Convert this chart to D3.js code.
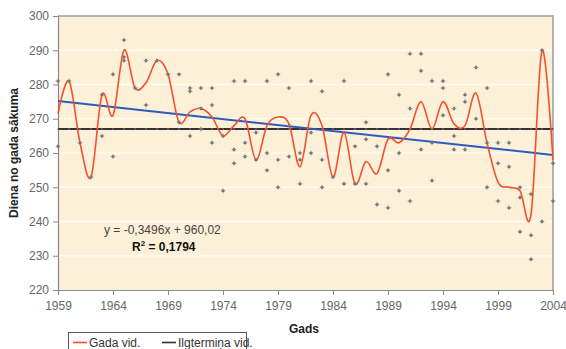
<!DOCTYPE html>
<html>
<head>
<meta charset="utf-8">
<script src="https://cdn.jsdelivr.net/npm/d3@7"></script>
<style>
  body { margin: 0; background: #fff; }
  svg text { font-family: "Liberation Sans", Arial, sans-serif; }
</style>
</head>
<body>
<svg id="chart"></svg>
<script>
var width = 566,
    height = 349;

// yearly mean (red smoothed line)
var years = d3.range(1959, 2005);
var yearMean = [271.5, 281, 263, 253, 277, 271, 290, 279, 280.5, 287,
                283, 269, 272, 273, 270.5, 265, 268, 270, 258, 268,
                270.5, 268.5, 256, 271, 268, 253, 266, 251, 257.5, 254,
                264, 263, 267, 275, 267, 275, 268.5, 268, 277.5, 263,
                251.5, 250, 249, 242, 290, 258];

// individual observations (gray points)
var obsYear = [1959,1959,1960,1961,1962,1963,1963,1964,1964,1965,1965,1965,1966,1967,1967,1968,1969,
               1970,1970,1971,1971,1971,1972,1972,1972,1973,1973,1973,1974,1974,1975,1975,1975,
               1976,1976,1976,1977,1977,1978,1978,1978,1979,1979,1979,1980,1980,1980,1981,1981,1981,
               1982,1982,1982,1983,1983,1983,1984,1985,1985,1986,1986,1987,1987,1987,1988,1988,
               1989,1989,1989,1990,1990,1990,1991,1991,1991,1992,1992,1992,1993,1993,1993,
               1994,1994,1994,1995,1995,1995,1996,1996,1996,1997,1997,1998,1998,1998,
               1999,1999,1999,2000,2000,2000,2001,2001,2001,2002,2002,2002,2003,2003,2004,2004];
var obsDay  = [262,281,281,263,253,277,265,283,259,293,288,287,279,287,274,287,283,
               283,269,279,278,265,279,273,267,279,274,263,265,249,281,261,257,
               281,263,259,266,258,281,260,255,283,258,250,279,259,268,260,258,251,
               281,266,260,278,258,250,253,281,251,262,251,269,264,251,262,245,
               283,255,244,277,260,249,289,273,246,289,284,261,281,263,252,
               281,279,271,273,265,261,277,275,261,285,270,279,263,250,
               263,257,246,263,256,244,250,247,237,248,236,229,290,240,257,246];

var longTermMean = 267;
var trendSlope = -0.3496,
    trendIntercept = 960.02;

var yTicks = [220, 230, 240, 250, 260, 270, 280, 290, 300];
var xTicks = [1959, 1964, 1969, 1974, 1979, 1984, 1989, 1994, 1999, 2004];

var svg = d3.select("#chart")
    .attr("width", width)
    .attr("height", height);

var plot = {left: 58, right: 553, top: 16, bottom: 290};

var x = d3.scaleLinear().domain([1959, 2004]).range([plot.left, plot.right]);
var y = d3.scaleLinear().domain([220, 300]).range([plot.bottom, plot.top]);

// plot area background
svg.append("rect")
    .attr("x", plot.left).attr("y", plot.top)
    .attr("width", plot.right - plot.left)
    .attr("height", plot.bottom - plot.top)
    .style("fill", "#fcf0d8");

// gridlines
svg.append("g").selectAll("line")
    .data(yTicks.slice(1, -1))
    .enter().append("line")
    .attr("x1", plot.left).attr("x2", plot.right)
    .attr("y1", function(d) { return y(d); })
    .attr("y2", function(d) { return y(d); })
    .style("stroke", "#fffaf2")
    .style("stroke-width", 1.5);

// plot border (top & right)
svg.append("path")
    .attr("d", "M" + plot.left + "," + plot.top + "H" + plot.right + "V" + plot.bottom)
    .style("fill", "none")
    .style("stroke", "#9a9a9a")
    .style("stroke-width", 1.5);

// axes
var yAxis = d3.axisLeft(y).tickValues(yTicks).tickSize(5).tickPadding(4);
var xAxis = d3.axisBottom(x).tickValues(xTicks).tickSize(5).tickPadding(6).tickFormat(d3.format("d"));

var gy = svg.append("g")
    .attr("transform", "translate(" + plot.left + ",0)")
    .call(yAxis);
var gx = svg.append("g")
    .attr("transform", "translate(0," + plot.bottom + ")")
    .call(xAxis);

[gx, gy].forEach(function(g) {
    g.select(".domain").style("stroke", "#8a8a8a").style("stroke-width", 1.2);
    g.selectAll(".tick line").style("stroke", "#8a8a8a");
    g.selectAll(".tick text").style("fill", "#666").style("font-size", "12px");
});

// long-term mean line with small markers
svg.append("line")
    .attr("x1", x(1959)).attr("x2", x(2004))
    .attr("y1", y(longTermMean)).attr("y2", y(longTermMean))
    .style("stroke", "#333")
    .style("stroke-width", 2);

svg.append("g").selectAll("rect")
    .data(years)
    .enter().append("rect")
    .attr("x", function(d) { return x(d) - 0.75; })
    .attr("y", y(longTermMean) - 0.75)
    .attr("width", 1.5).attr("height", 1.5)
    .style("fill", "#b060c0")
    .style("opacity", 0.8);

// trend line
svg.append("line")
    .attr("x1", x(1959)).attr("x2", x(2004))
    .attr("y1", y(trendSlope * 1959 + trendIntercept))
    .attr("y2", y(trendSlope * 2004 + trendIntercept))
    .style("stroke", "#2d5bbd")
    .style("stroke-width", 2);

// yearly mean smoothed line
var line = d3.line()
    .x(function(d, i) { return x(years[i]); })
    .y(function(d) { return y(d); })
    .curve(d3.curveCatmullRom.alpha(0));

svg.append("path")
    .datum(yearMean)
    .attr("d", line)
    .style("fill", "none")
    .style("stroke", "#f5502a")
    .style("stroke-width", 1.6);

// observation points
var pts = svg.append("g");
obsDay.forEach(function(v, i) {
    var cx = x(obsYear[i]), cy = y(v);
    pts.append("circle")
        .attr("cx", cx).attr("cy", cy).attr("r", 1.5)
        .style("fill", "#4a4a4a");
    pts.append("path")
        .attr("d", "M" + (cx - 2.5) + "," + cy + "h5M" + cx + "," + (cy - 2.5) + "v5")
        .style("stroke", "#999").style("stroke-width", 0.7);
});

// regression text
svg.append("text")
    .attr("x", 104).attr("y", 234)
    .style("font-size", "12px").style("fill", "#444")
    .text("y = -0,3496x + 960,02");

var r2 = svg.append("text")
    .attr("x", 132).attr("y", 251)
    .style("font-size", "12px").style("font-weight", "bold").style("fill", "#111");
r2.append("tspan").text("R");
r2.append("tspan").attr("dy", -5).style("font-size", "8px").text("2");
r2.append("tspan").attr("dy", 5).text(" = 0,1794");

// axis titles
svg.append("text")
    .attr("x", 304).attr("y", 333)
    .attr("text-anchor", "middle")
    .style("font-size", "12px").style("font-weight", "bold").style("fill", "#222")
    .text("Gads");

svg.append("text")
    .attr("transform", "translate(18,153) rotate(-90)")
    .attr("text-anchor", "middle")
    .style("font-size", "12px").style("font-weight", "bold").style("fill", "#222")
    .text("Diena no gada sākuma");

// legend
var legend = svg.append("g");
legend.append("rect")
    .attr("x", 68.5).attr("y", 332.5)
    .attr("width", 178).attr("height", 24)
    .style("fill", "#fff").style("stroke", "#555");

var legendItems = [
    {label: "Gada vid.", color: "#f5502a", x: 73},
    {label: "Ilgtermiņa vid.", color: "#333", x: 162}
];
legendItems.forEach(function(d) {
    legend.append("line")
        .attr("x1", d.x).attr("x2", d.x + 14)
        .attr("y1", 342.5).attr("y2", 342.5)
        .style("stroke", d.color).style("stroke-width", 1.6);
    legend.append("text")
        .attr("x", d.x + 16).attr("y", 346.5)
        .style("font-size", "12px").style("fill", "#333")
        .text(d.label);
});
</script>
</body>
</html>
